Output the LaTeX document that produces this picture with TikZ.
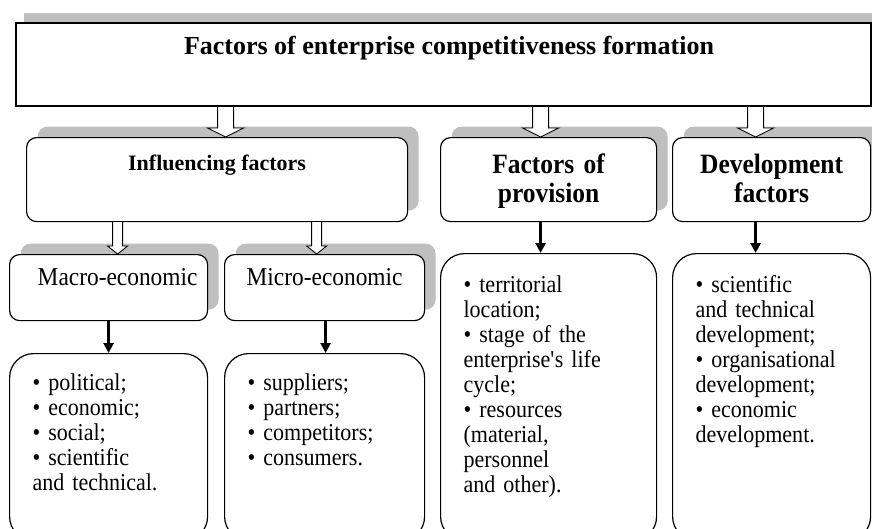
\documentclass[tikz,border=0pt]{standalone}
\usepackage{fontspec}
\setmainfont{Liberation Serif}
\newfontfamily\narrowfont[FakeStretch=0.91]{Liberation Serif}
\newcommand\listfont{\narrowfont\fontsize{24.2}{25}\selectfont\spaceskip=4.8pt\relax}
\newcommand\headfont{\narrowfont\bfseries\fontsize{28}{29}\selectfont\spaceskip=5.6pt\relax}
\usetikzlibrary{arrows.meta,calc,shadows}
\definecolor{shade}{HTML}{BFBFBF}

\begin{document}
\begin{tikzpicture}[x=1pt,y=-1pt,line width=1.2pt,>={Triangle[length=10pt,width=10pt]},
  shd/.style={general shadow={fill=shade,shadow xshift=11pt,shadow yshift=11pt}},
  head/.style={draw,rounded corners=10pt,fill=white,shd,inner sep=0pt,anchor=north west},
  list/.style={draw,rounded corners=24pt,fill=white,inner xsep=23pt,inner ysep=0pt,
    anchor=north west,align=left,font=\listfont},
  hollow/.style={draw,fill=white,line width=0.9pt}]
  \useasboundingbox (0,0) rectangle (872,528);
  \clip (0,0) rectangle (872,528);
  % title bar
  \node[draw,line width=2pt,fill=white,inner sep=0pt,anchor=north west,minimum width=855pt,
    text height=31pt,text depth=52pt,general shadow={fill=shade,shadow xshift=8pt,shadow yshift=10pt},
    font=\bfseries\fontsize{26}{30}\selectfont] (title) at (15,22) {\hspace*{11pt}Factors of enterprise competitiveness formation};
  % three groups of factors
  \node[head,minimum width=381pt,text height=33pt,text depth=51pt,
    font=\bfseries\fontsize{22}{26}\selectfont] (infl) at (26,137) {Influencing factors};
  \node[head,text width=216pt,align=center,text height=36pt,text depth=48pt,
    font=\headfont] (prov) at (440,137) {Factors of\\provision};
  \node[head,text width=198pt,align=center,text height=36pt,text depth=48pt,
    font=\headfont] (devt) at (672,137) {Development\\factors};
  % macro / micro split
  \node[head,minimum width=198pt,text height=31pt,text depth=35pt,
    font=\narrowfont\fontsize{25.7}{27}\selectfont] (macro) at (9,254) {\hspace*{18pt}Macro-economic};
  \node[head,minimum width=200pt,text height=31pt,text depth=35pt,
    font=\narrowfont\fontsize{25.7}{27}\selectfont] (micro) at (224,254) {Micro-economic};
  % lists
  \node[list,text width=152pt,text height=37pt,text depth=150pt] (macrolist) at (9,353)
    {• political;\\• economic;\\• social;\\• scientific\\and technical.};
  \node[list,text width=154pt,text height=37pt,text depth=150pt] (microlist) at (224,353)
    {• suppliers;\\• partners;\\• competitors;\\• consumers.};
  \node[list,text width=170pt,text height=39pt,text depth=248pt] (provlist) at (440,253)
    {• territorial\\location;\\• stage of the\\enterprise\textquotesingle s life\\cycle;\\• resources\\(material,\\personnel\\and other).};
  \node[list,text width=152pt,text height=39pt,text depth=248pt] (devtlist) at (672,253)
    {• scientific\\and technical\\development;\\• organisational\\development;\\• economic\\development.};
  % hollow arrows between levels
  \foreach \src/\dst/\dx/\hw/\hh/\hl in {title/infl/8.5/8/18/9, title/prov/-8/8/18/9, title/devt/-16/8/18/9,
      infl/macro/9/5/10/8, infl/micro/-8/5/10/8}{
    \path ([xshift=\dx pt]\dst.north |- \src.south) coordinate (s) ([xshift=\dx pt]\dst.north) coordinate (e);
    \draw[hollow] ($(s)+(-\hw,0)$) -- ($(e)+(-\hw,-\hl)$) -- ($(e)+(-\hh,-\hl)$) -- (e)
      -- ($(e)+(\hh,-\hl)$) -- ($(e)+(\hw,-\hl)$) -- ($(s)+(\hw,0)$);
  }
  % solid arrows down to the lists
  \foreach \src/\dst/\dx in {macro/macrolist/0, micro/microlist/1, prov/provlist/-8, devt/devtlist/-16}
    \draw[->,line width=2.6pt] ([xshift=\dx pt]\src.south) -- ([xshift=\dx pt]\src.south |- \dst.north);
\end{tikzpicture}
\end{document}
